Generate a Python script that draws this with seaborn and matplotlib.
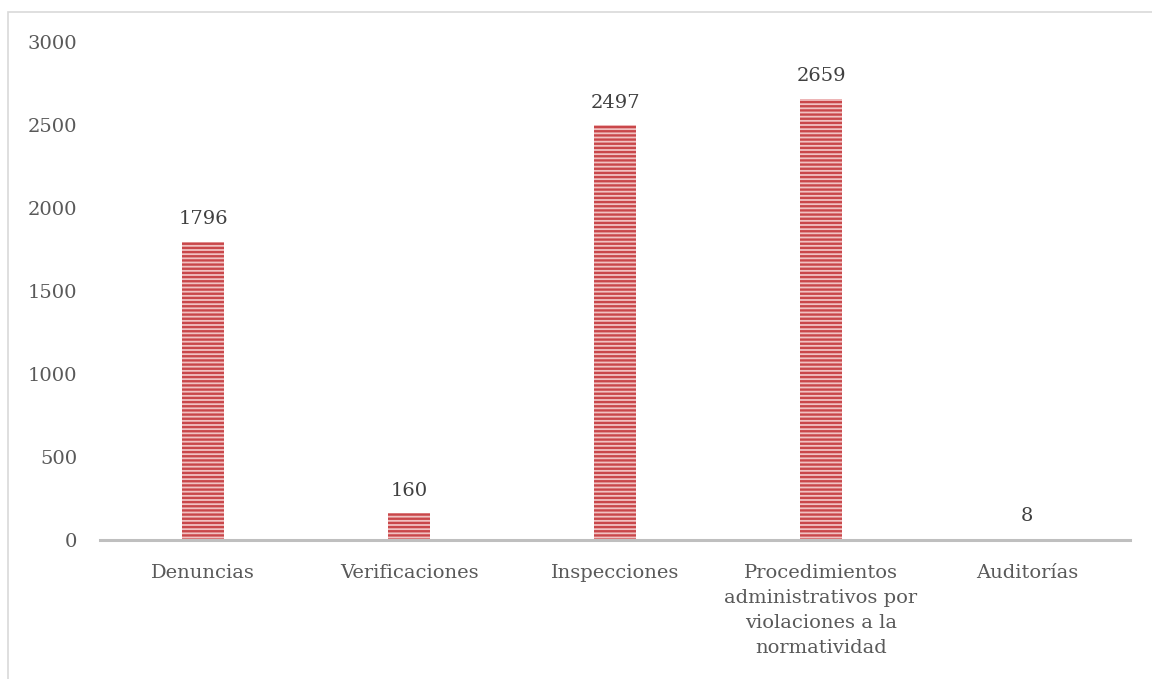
import matplotlib
matplotlib.use("Agg")
import matplotlib.pyplot as plt
from matplotlib.patches import Rectangle
import seaborn as sns
import pandas as pd

categories = [
    "Denuncias",
    "Verificaciones",
    "Inspecciones",
    "Procedimientos\nadministrativos por\nviolaciones a la\nnormatividad",
    "Auditorías",
]
values = [1796, 160, 2497, 2659, 8]
y_ticks = [0, 500, 1000, 1500, 2000, 2500, 3000]

sns.set_style("white")
plt.rcParams["font.family"] = ["DejaVu Serif"]
plt.rcParams["hatch.color"] = "#c9474a"
plt.rcParams["hatch.linewidth"] = 1.7

df = pd.DataFrame({"categoria": categories, "valor": values})

fig = plt.figure(figsize=(11.52, 6.79), dpi=100)
ax = fig.add_axes([100 / 1152, 1 - 540 / 679, 1030 / 1152, 498 / 679])

sns.barplot(data=df, x="categoria", y="valor", color="#f1c2c2",
            width=0.2, ax=ax, saturation=1)
for p in ax.patches:
    p.set_hatch("----")
    p.set_edgecolor("#c9474a")
    p.set_linewidth(0)

ax.set_ylim(0, 3000)
ax.set_xlim(-0.5, len(categories) - 0.5)
ax.set_yticks(y_ticks)
ax.set_yticklabels([str(t) for t in y_ticks])
ax.set_xlabel("")
ax.set_ylabel("")

for s in ["top", "right", "left"]:
    ax.spines[s].set_visible(False)
ax.spines["bottom"].set_color("#bfbfbf")
ax.spines["bottom"].set_linewidth(2.2)

ax.tick_params(axis="y", length=0, pad=16.5, labelsize=14, labelcolor="#595959")
ax.tick_params(axis="x", length=0, pad=17, labelsize=14, labelcolor="#595959")
for lbl in ax.get_xticklabels():
    lbl.set_linespacing(1.5)

for i, v in enumerate(values):
    ax.annotate(str(v), xy=(i, v), xytext=(0, 10), textcoords="offset points",
                ha="center", va="bottom", fontsize=14, color="#404040")

# chart-area frame
fig.add_artist(Rectangle((8 / 1152, -0.1), 1.2, 1 - 12 / 679 + 0.1,
                         transform=fig.transFigure, fill=False,
                         edgecolor="#d9d9d9", linewidth=1.2))

fig.savefig("out.png", dpi=100)
